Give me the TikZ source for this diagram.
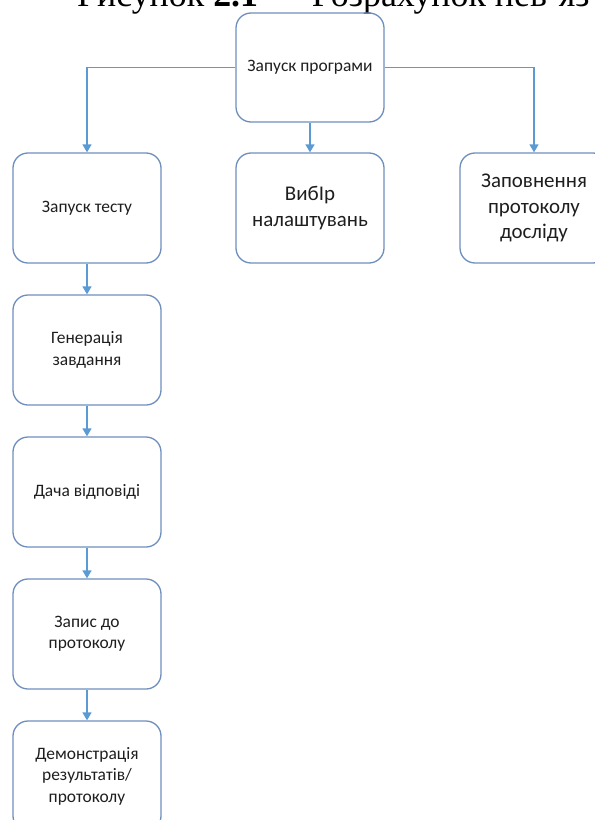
\documentclass[tikz,border=0pt]{standalone}
\usepackage{fontspec}
\setmainfont{Carlito}
\newfontfamily\capfont{Liberation Serif}
\usetikzlibrary{arrows.meta}

\definecolor{boxline}{RGB}{110,143,190}
\definecolor{linkblue}{RGB}{91,155,213}
\definecolor{inktext}{RGB}{30,30,30}

\tikzset{
  stepbox/.style={draw=boxline, line width=1.3bp, rounded corners=15bp,
    minimum width=148bp, minimum height=110bp, align=center,
    text=inktext, inner sep=2bp},
  smalltext/.style={font=\fontsize{17.5}{21.5}\selectfont},
  bigtext/.style={font=\fontsize{21}{25.5}\selectfont},
  link/.style={draw=linkblue, line width=1.4bp,
    -{Triangle[width=9bp,length=8bp]}},
}

\begin{document}
\begin{tikzpicture}[x=1bp,y=-1bp]
  \useasboundingbox (0,0) rectangle (595,820);
  \clip (0,0) rectangle (595,820);

  % caption line running off the top edge
  \node[anchor=base west, inner sep=0, font=\capfont\fontsize{36}{40}\selectfont]
    (caption) at (77,7) {Рисунок \textbf{2.1} — Розрахунок нев’яз};

  % root
  \node[stepbox, smalltext, minimum height=109bp] (start) at (310,67.5) {Запуск програми};

  % second level
  \node[stepbox, smalltext] (test)  at (87,208)  {Запуск тесту};
  \node[stepbox, bigtext]   (setup) at (310,208) {ВибІр\\налаштувань};
  \node[stepbox, bigtext]   (fill)  at (534,208) {Заповнення\\протоколу\\досліду};

  % test sequence
  \node[stepbox, smalltext] (gen)    at (87,350) {Генерація\\завдання};
  \node[stepbox, smalltext] (answer) at (87,492) {Дача відповіді};
  \node[stepbox, smalltext] (log)    at (87,634) {Запис до\\протоколу};
  \node[stepbox, smalltext] (show)   at (87,776) {Демонстрація\\результатів/\\протоколу};

  % connectors
  \draw[link] (start.west) -| (test.north);
  \draw[link] (start.south) -- (setup.north);
  \draw[link] (start.east) -| (fill.north);
  \draw[link] (test.south) -- (gen.north);
  \draw[link] (gen.south) -- (answer.north);
  \draw[link] (answer.south) -- (log.north);
  \draw[link] (log.south) -- (show.north);
\end{tikzpicture}
\end{document}
